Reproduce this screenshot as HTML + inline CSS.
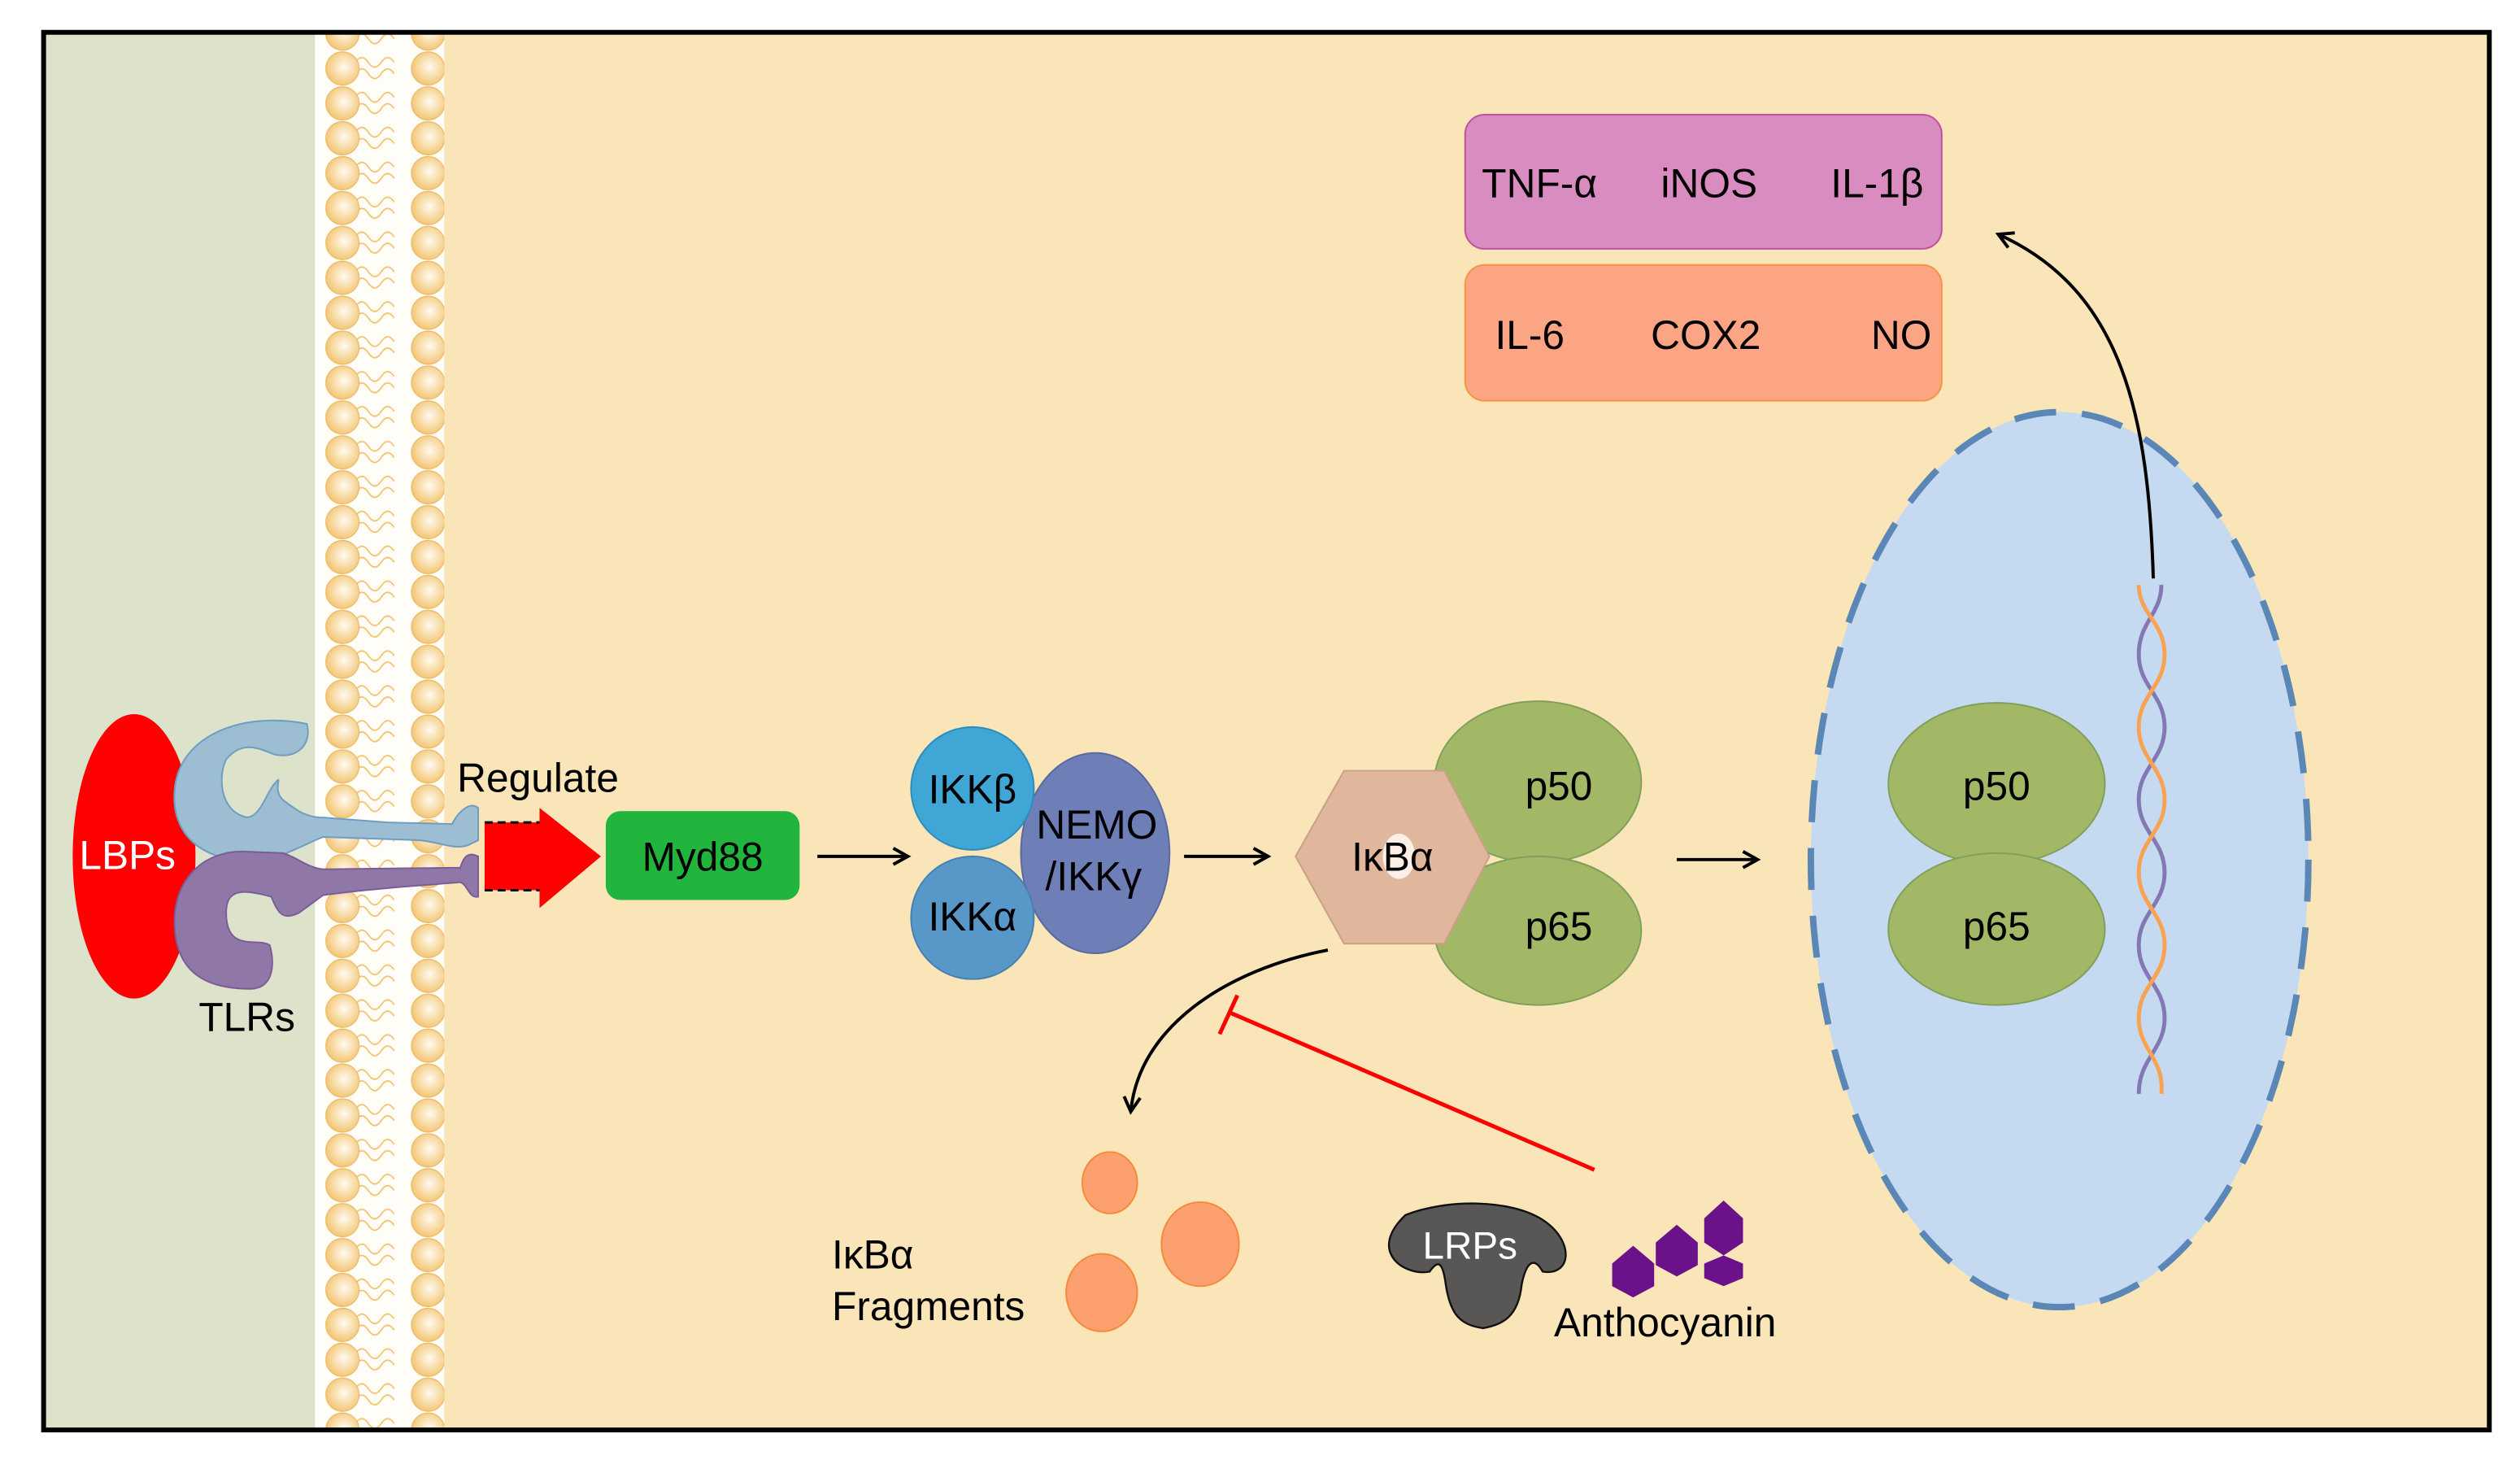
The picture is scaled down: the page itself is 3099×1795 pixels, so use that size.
<!DOCTYPE html>
<html><head><meta charset="utf-8"><style>
html,body{margin:0;padding:0;background:#fff;}
svg{display:block;}
text{font-family:"Liberation Sans",Arial,sans-serif;}
</style></head><body>
<svg width="3099" height="1795" viewBox="0 0 1560 903.6" preserveAspectRatio="none" xmlns="http://www.w3.org/2000/svg">
<defs>
<radialGradient id="bead" cx="0.55" cy="0.45" r="0.6">
<stop offset="0" stop-color="#fffaf0"/><stop offset="1" stop-color="#f2c26a"/>
</radialGradient>
<pattern id="mem" x="0" y="10" width="100" height="21.6" patternUnits="userSpaceOnUse">
<rect x="0" y="0" width="100" height="21.6" fill="#fffdf8"/>
<path d="M20 7 q4 -6 8 0 t8 0 t8 0 M20 14 q4 -6 8 0 t8 0 t8 0" stroke="#f2c26a" stroke-width="0.9" fill="none"/>
<circle cx="12" cy="10.8" r="10.3" fill="url(#bead)" stroke="#eab860" stroke-width="0.6"/>
<circle cx="65" cy="10.8" r="10.3" fill="url(#bead)" stroke="#eab860" stroke-width="0.6"/>
</pattern>
<marker id="ah" markerWidth="12" markerHeight="12" refX="10" refY="6" orient="auto" markerUnits="userSpaceOnUse">
<path d="M1 1 L10 6 L1 11" fill="none" stroke="#000" stroke-width="2"/>
</marker>
</defs>
<rect x="0" y="0" width="1560" height="903.6" fill="#fff"/>
<rect x="27" y="20" width="1514" height="865" fill="#fae5b8"/>
<rect x="27" y="20" width="170" height="865" fill="#dde3cb"/>
<rect x="195" y="20" width="80" height="865" fill="url(#mem)"/>
<rect x="27" y="20" width="1514" height="865" fill="none" stroke="#000" stroke-width="3"/>

<!-- LBPs -->
<ellipse cx="83" cy="530" rx="38" ry="88" fill="#fe0000"/>
<text x="49" y="538" font-size="25" fill="#fff">LBPs</text>
<!-- blue TLR -->
<path d="M190 448 C150 440 110 455 108 490 C106 520 130 535 160 532 C175 531 185 524 200 518 L260 520 C275 522 282 526 290 523 L296 520 L296 500 C290 495 282 505 280 510 L240 509 L200 506 C188 506 182 500 175 495 C168 488 176 478 170 485 C165 490 160 510 150 505 C136 500 135 480 140 470 C150 458 160 463 170 467 C185 470 193 460 190 448 Z" fill="#9cbdd2" stroke="#6d9ec0" stroke-width="1"/>
<!-- purple TLR -->
<path d="M150 527 C125 527 108 545 108 570 C108 600 125 612 155 612 C170 612 170 595 167 585 C160 580 140 590 140 565 C140 550 150 550 168 555 C172 565 175 570 185 565 L200 554 C230 550 260 548 285 546 C290 548 290 556 296 555 L296 530 C290 527 287 530 285 537 L200 538 C190 537 183 530 175 528 Z" fill="#8f78a8" stroke="#7a5d96" stroke-width="1"/>
<text x="123" y="638" font-size="25">TLRs</text>
<text x="283" y="490" font-size="25">Regulate</text>
<!-- red arrow -->
<path d="M300 509 L334 509 L334 500 L372 530 L334 562 L334 551 L300 551 Z" fill="#fe0000"/>
<path d="M300 509 L334 509 M300 551 L334 551" stroke="#000" stroke-width="1.5" stroke-dasharray="5 3"/>
<!-- Myd88 -->
<rect x="375" y="502" width="120" height="55" rx="9" fill="#22b53e"/>
<text x="435" y="539" font-size="25" text-anchor="middle">Myd88</text>
<line x1="506" y1="530" x2="562" y2="530" stroke="#000" stroke-width="2" marker-end="url(#ah)"/>
<!-- IKK -->
<ellipse cx="678" cy="528" rx="46" ry="62" fill="#6e7fb8" stroke="#5a6aa0"/>
<circle cx="602" cy="488" r="38" fill="#3fa6d6" stroke="#2e8cbc"/>
<circle cx="602" cy="568" r="38" fill="#5898c8" stroke="#4680b0"/>
<text x="602" y="497" font-size="25" text-anchor="middle">IKKβ</text>
<text x="602" y="576" font-size="25" text-anchor="middle">IKKα</text>
<text x="679" y="519" font-size="25" text-anchor="middle">NEMO</text>
<text x="677" y="551" font-size="25" text-anchor="middle">/IKKγ</text>
<line x1="733" y1="530" x2="785" y2="530" stroke="#000" stroke-width="2" marker-end="url(#ah)"/>
<!-- p50/p65 cytoplasm -->
<ellipse cx="952" cy="484" rx="64" ry="50" fill="#a2b866" stroke="#7fa05a"/>
<ellipse cx="952" cy="576" rx="64" ry="46" fill="#a2b866" stroke="#7fa05a"/>
<polygon points="832,477 894,477 922,530 894,584 832,584 802,530" fill="#e0b69c" stroke="#c9a08a"/>
<ellipse cx="866" cy="530" rx="10" ry="14" fill="#fcefe6"/>
<text x="862" y="539" font-size="25" text-anchor="middle">IκBα</text>
<text x="965" y="495" font-size="25" text-anchor="middle">p50</text>
<text x="965" y="582" font-size="25" text-anchor="middle">p65</text>
<line x1="1038" y1="532" x2="1088" y2="532" stroke="#000" stroke-width="2" marker-end="url(#ah)"/>
<!-- nucleus -->
<ellipse cx="1275" cy="532" rx="154" ry="277" fill="#c5daf0" stroke="#5b87b7" stroke-width="4" stroke-dasharray="26 16"/>
<ellipse cx="1236" cy="485" rx="67" ry="50" fill="#a2b866" stroke="#7fa05a"/>
<ellipse cx="1236" cy="575" rx="67" ry="47" fill="#a2b866" stroke="#7fa05a"/>
<text x="1236" y="495" font-size="25" text-anchor="middle">p50</text>
<text x="1236" y="582" font-size="25" text-anchor="middle">p65</text>
<!-- DNA -->
<path d="M1338 362 C1338 380 1324 385 1324 405 C1324 425 1340 430 1340 450 C1340 470 1324 475 1324 495 C1324 515 1340 520 1340 540 C1340 560 1324 565 1324 585 C1324 605 1340 610 1340 630 C1340 650 1324 655 1324 677" stroke="#8378b3" stroke-width="2.5" fill="none"/>
<path d="M1324 362 C1324 380 1340 385 1340 405 C1340 425 1324 430 1324 450 C1324 470 1340 475 1340 495 C1340 515 1324 520 1324 540 C1324 560 1340 565 1340 585 C1340 605 1324 610 1324 630 C1324 650 1340 655 1338 677" stroke="#f9a352" stroke-width="2.5" fill="none"/>
<path d="M1333 358 C1330 260 1315 180 1237 145" stroke="#000" stroke-width="2" fill="none" marker-end="url(#ah)"/>
<!-- boxes -->
<rect x="907" y="71" width="295" height="83" rx="12" fill="#d98cbf" stroke="#c050a0" stroke-width="1"/>
<text x="953" y="122" font-size="25" text-anchor="middle">TNF-α</text>
<text x="1058" y="122" font-size="25" text-anchor="middle">iNOS</text>
<text x="1162" y="122" font-size="25" text-anchor="middle">IL-1β</text>
<rect x="907" y="164" width="295" height="84" rx="12" fill="#fca584" stroke="#f7943f" stroke-width="1"/>
<text x="947" y="216" font-size="25" text-anchor="middle">IL-6</text>
<text x="1056" y="216" font-size="25" text-anchor="middle">COX2</text>
<text x="1177" y="216" font-size="25" text-anchor="middle">NO</text>
<!-- degradation arrow -->
<path d="M822 588 C760 600 705 635 700 688" stroke="#000" stroke-width="2" fill="none" marker-end="url(#ah)"/>
<!-- inhibition -->
<line x1="987" y1="724" x2="762" y2="627" stroke="#fe0000" stroke-width="2.5"/>
<line x1="755" y1="640" x2="766" y2="616" stroke="#fe0000" stroke-width="2.5"/>
<!-- fragments -->
<ellipse cx="687" cy="732" rx="17" ry="19" fill="#fca070" stroke="#f68a3a"/>
<ellipse cx="743" cy="770" rx="24" ry="26" fill="#fca070" stroke="#f68a3a"/>
<ellipse cx="682" cy="800" rx="22" ry="24" fill="#fca070" stroke="#f68a3a"/>
<text x="515" y="785" font-size="25">IκBα</text>
<text x="515" y="817" font-size="25">Fragments</text>
<!-- LRPs -->
<path d="M870 752 C895 742 935 742 955 755 C975 768 973 790 955 787 C950 778 945 780 942 795 C940 815 930 820 918 822 C905 820 898 815 895 795 C893 780 890 780 885 787 C870 790 846 775 870 752 Z" fill="#595656" stroke="#111" stroke-width="1.2"/>
<text x="910" y="779" font-size="24" fill="#fff" text-anchor="middle">LRPs</text>
<!-- anthocyanin -->
<g fill="#6b118a">
<polygon points="1011,771 1024,782 1024,796 1011,803 998,796 998,782"/>
<polygon points="1038,758 1051,769 1051,783 1038,790 1025,783 1025,769"/>
<polygon points="1067,743 1079,754 1079,769 1067,777 1055,769 1055,754"/>
<polygon points="1067,777 1079,782 1079,791 1067,796 1055,791 1055,782"/>
</g>
<text x="962" y="827" font-size="25">Anthocyanin</text>
</svg>
</body></html>
